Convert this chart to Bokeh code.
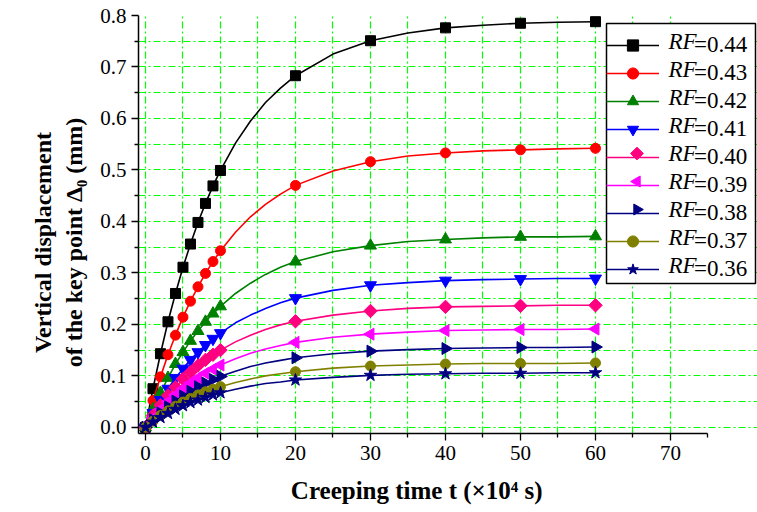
import math
from bokeh.plotting import figure
from bokeh.models import Legend, LegendItem, FixedTicker, Range1d, PrintfTickFormatter
from bokeh.core.properties import value
from bokeh.embed import file_html
from bokeh.resources import INLINE

# ---------------- data ----------------
t_curve = [0, 1, 2, 3, 4, 5, 6, 7, 8, 9, 10, 12, 14, 16, 18, 20, 25, 30, 35, 40, 45, 50, 55, 60]
t_marks = [0, 1, 2, 3, 4, 5, 6, 7, 8, 9, 10, 20, 30, 40, 50, 60]

rf_names = ["0.44", "0.43", "0.42", "0.41", "0.40", "0.39", "0.38", "0.37", "0.36"]

rf044 = [0, .075, .143, .205, .260, .311, .356, .398, .435, .469, .499, .552, .595, .631, .659, .683, .725, .751, .766, .776, .781, .785, .787, .788]
rf043 = [0, .052, .098, .141, .179, .214, .245, .273, .299, .322, .343, .379, .409, .433, .453, .470, .498, .516, .527, .533, .537, .539, .541, .542]
rf042 = [0, .035, .067, .096, .123, .146, .168, .187, .205, .221, .235, .260, .280, .297, .311, .322, .341, .353, .361, .365, .368, .370, .370, .371]
rf041 = [0, .028, .053, .075, .096, .114, .131, .146, .160, .172, .183, .203, .218, .231, .242, .251, .266, .276, .281, .285, .287, .288, .289, .289]
rf040 = [0, .023, .043, .062, .078, .094, .107, .120, .131, .141, .150, .166, .179, .190, .199, .206, .218, .226, .231, .234, .235, .236, .237, .237]
rf039 = [0, .018, .035, .050, .063, .075, .086, .096, .105, .113, .121, .133, .144, .152, .159, .165, .175, .181, .185, .188, .189, .190, .190, .191]
rf038 = [0, .015, .028, .040, .051, .061, .070, .079, .086, .093, .099, .109, .118, .125, .130, .135, .143, .148, .151, .153, .154, .155, .155, .156]
rf037 = [0, .012, .023, .032, .041, .049, .056, .063, .069, .074, .079, .087, .094, .100, .104, .108, .115, .119, .121, .123, .124, .124, .124, .125]
rf036 = [0, .010, .019, .027, .035, .042, .048, .053, .058, .063, .067, .074, .080, .085, .088, .092, .097, .101, .103, .104, .105, .105, .106, .106]

x_ticks = [0, 10, 20, 30, 40, 50, 60, 70]
x_minor = [5, 15, 25, 35, 45, 55, 65, 75]
y_ticks = [0.0, 0.1, 0.2, 0.3, 0.4, 0.5, 0.6, 0.7, 0.8]
y_minor = [0.05, 0.15, 0.25, 0.35, 0.45, 0.55, 0.65, 0.75]
x_grid = [0, 5, 10, 15, 20, 25, 30, 35, 40, 45, 50, 55, 60, 65, 70]
y_grid = [0.0, 0.05, 0.1, 0.15, 0.2, 0.25, 0.3, 0.35, 0.4, 0.45, 0.5, 0.55, 0.6, 0.65, 0.7, 0.75]
x_axis_end = 75

series = [rf044, rf043, rf042, rf041, rf040, rf039, rf038, rf037, rf036]
colors = ["#000000", "#ff0000", "#008000", "#0000ff", "#ff0080", "#ff00ff", "#000080", "#808000", "#000080"]
markers = ["square", "circle", "triangle", "inverted_triangle", "square", "triangle", "triangle", "circle", "star"]
angles = [0, 0, 0, 0, math.pi / 4, math.pi / 2, -math.pi / 2, 0, 0]
sizes = [10, 10, 12, 12, 9.5, 12, 12, 10, 13]

SERIF = "Liberation Serif"
NB = "\u00a0"

# ---------------- layout ----------------
W, H = 757, 512
B_LEFT, B_RIGHT, B_TOP, B_BOTTOM = 138, 0, 15, 79
X0, X1, Y0, Y1 = -0.93, 81.6, -0.012, 0.8
FRAME_W = W - B_LEFT - B_RIGHT
FRAME_H = H - B_TOP - B_BOTTOM
kx = (X1 - X0) / FRAME_W
ky = (Y1 - Y0) / FRAME_H


def sx(px):  # screen px from frame left -> data x
    return X0 + px * kx


def sy(py):  # screen px from frame bottom -> data y
    return Y0 + py * ky


p = figure(width=W, height=H,
           x_range=Range1d(X0, X1), y_range=Range1d(Y0, Y1),
           output_backend="svg", toolbar_location=None,
           min_border_left=B_LEFT, min_border_right=B_RIGHT,
           min_border_top=B_TOP, min_border_bottom=B_BOTTOM)
p.outline_line_color = None
p.background_fill_color = "white"

# grid
for g, tk in ((p.xgrid, x_grid), (p.ygrid, y_grid)):
    g.ticker = FixedTicker(ticks=tk)
    g.grid_line_color = "#00ff00"
    g.grid_line_dash = "7 3 2 3"
    g.grid_line_width = 1.2
p.ygrid.bounds = (X0, x_axis_end)

# axes
p.xaxis.ticker = FixedTicker(ticks=x_ticks, minor_ticks=x_minor)
p.yaxis.ticker = FixedTicker(ticks=y_ticks, minor_ticks=y_minor)
p.yaxis.formatter = PrintfTickFormatter(format="%.1f")
p.xaxis.bounds = (X0, x_axis_end)
for ax in (p.xaxis[0], p.yaxis[0]):
    ax.axis_line_color = "black"
    ax.axis_line_width = 1.5
    ax.major_tick_line_color = "black"
    ax.minor_tick_line_color = "black"
    ax.major_tick_line_width = 1.3
    ax.minor_tick_line_width = 1.3
    ax.major_tick_out = 7
    ax.major_tick_in = 0
    ax.minor_tick_out = 4
    ax.minor_tick_in = 0
    ax.major_label_text_font = SERIF
    ax.major_label_text_font_size = "21px"
    ax.major_label_text_color = "black"
    ax.major_label_standoff = 5
    ax.axis_label_text_font = SERIF
    ax.axis_label_text_font_style = "bold"
    ax.axis_label_text_color = "black"

p.xaxis.axis_label_text_font_size = "25px"
p.yaxis.axis_label_text_font_size = "24px"
p.xaxis.axis_label = "Creeping time t (\u00d710\u2074 s)" + NB * 10
p.xaxis.axis_label_standoff = 14
p.yaxis.axis_label = ("Vertical displacement" + NB * 6 + "\nof the key point \u0394\u2080 (mm)" + NB * 6)
p.yaxis.axis_label_standoff = 10

# legend box layout (screen px relative to frame bottom-left)
LEG_X, LEG_Y, LEG_W, PAD, GLYPH_W, STANDOFF, ROW_H, RF_W = 468, 150, 149, 4, 53, 35, 28, 30
n_rows = len(series)
LEG_H = 2 * PAD + ROW_H * n_rows
row_py = [LEG_Y + LEG_H - PAD - ROW_H / 2 - ROW_H * i for i in range(n_rows)]

# white legend box (drawn first, below everything else)
p.quad(left=[sx(LEG_X)], right=[sx(LEG_X + LEG_W)], bottom=[sy(LEG_Y)], top=[sy(LEG_Y + LEG_H)],
       fill_color="white", line_color="black", line_width=1.5)

# series
idx = [t_curve.index(t) for t in t_marks]
items = []
for i, (vals, col, mk, ang, sz, name) in enumerate(zip(series, colors, markers, angles, sizes, rf_names)):
    ln = p.line(t_curve, vals, line_color=col, line_width=1.6)
    sc = p.scatter([t_curve[j] for j in idx], [vals[j] for j in idx], marker=mk,
                   angle=ang, angle_units="rad", size=sz, fill_color=col, line_color=col)
    if ang == 0:
        items.append(LegendItem(label="=" + name, renderers=[ln, sc]))
    else:
        # the legend draws markers unrotated, so draw this sample marker ourselves
        items.append(LegendItem(label="=" + name, renderers=[ln]))
        p.scatter([sx(LEG_X + PAD + GLYPH_W / 2)], [sy(row_py[i])], marker=mk, angle=ang,
                  angle_units="rad", size=sz - 0.5 if mk == "square" else 11,
                  fill_color=col, line_color=col)

# italic "RF" prefix of each legend label
p.text(x=[sx(LEG_X + PAD + GLYPH_W + STANDOFF - RF_W)] * n_rows, y=[sy(v) for v in row_py],
       text=["RF"] * n_rows, text_font=value(SERIF), text_font_style="italic",
       text_font_size="23px", text_color="black", text_baseline="middle", text_align="left")

legend = Legend(items=items, location=(LEG_X, LEG_Y), padding=PAD, spacing=0,
                glyph_width=GLYPH_W, glyph_height=ROW_H, label_height=ROW_H,
                label_standoff=STANDOFF, label_text_font=SERIF, label_text_font_size="23px",
                label_text_color="black", border_line_color=None,
                background_fill_alpha=0.0, margin=0)
p.add_layout(legend, "center")

open("out.html", "w").write(file_html(p, INLINE))
